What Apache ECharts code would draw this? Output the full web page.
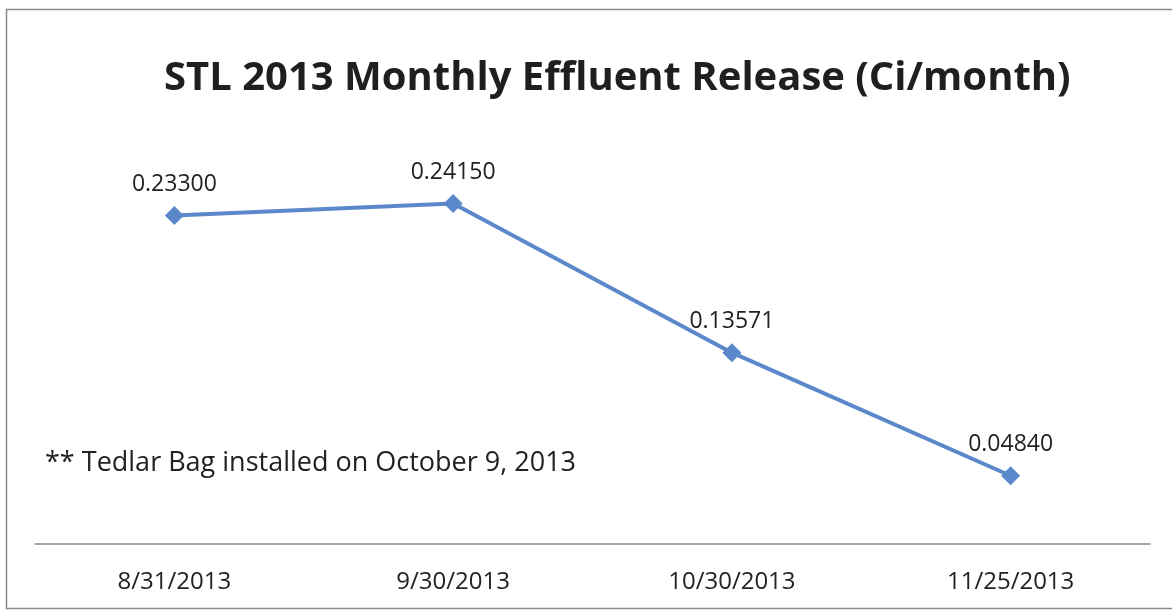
<!DOCTYPE html>
<html>
<head>
<meta charset="utf-8">
<script src="https://cdn.jsdelivr.net/npm/echarts@6/dist/echarts.min.js"></script>
<style>
html,body{margin:0;padding:0;background:#fff;}
#c{width:1172px;height:611px;}
</style>
</head>
<body>
<div id="c"></div>
<script>
var categories = ['8/31/2013', '9/30/2013', '10/30/2013', '11/25/2013'];
var releaseValues = [0.23300, 0.24150, 0.13571, 0.04840];
var titleText = 'STL 2013 Monthly Effluent Release (Ci/month)';
var noteText = '** Tedlar Bag installed on October 9, 2013';

var chart = echarts.init(document.getElementById('c'));
var font = '"Open Sans", "Noto Sans", sans-serif';
chart.setOption({
  animation: false,
  backgroundColor: '#fff',
  title: {
    text: titleText,
    left: 159,
    top: 54,
    textStyle: { fontFamily: font, fontSize: 40, fontWeight: 'bold', color: '#1f1f1f' }
  },
  graphic: [
    { type: 'rect', shape: { x: 6.5, y: 9.5, width: 1180, height: 599 }, style: { fill: 'none', stroke: '#8a8a8a', lineWidth: 1.5 }, silent: true },
    { type: 'text', left: 45, top: 450, style: { text: noteText, fontFamily: font, fontSize: 27, fill: '#222' } }
  ],
  grid: { left: 35, right: 22, top: 121, bottom: 67 },
  xAxis: {
    type: 'category',
    data: categories,
    boundaryGap: true,
    offset: 4,
    axisLine: { show: true, lineStyle: { color: '#8c8c8c', width: 1.5 } },
    axisTick: { show: false },
    axisLabel: { margin: 22, fontFamily: font, fontSize: 24, color: '#222' },
    splitLine: { show: false }
  },
  yAxis: {
    type: 'value',
    min: 0,
    max: 0.3,
    show: false
  },
  series: [{
    type: 'line',
    data: releaseValues,
    symbol: 'diamond',
    symbolSize: 19,
    lineStyle: { color: '#5b88cb', width: 4 },
    itemStyle: { color: '#5b88cb' },
    label: {
      show: true,
      position: 'top',
      distance: 10,
      fontFamily: font,
      fontSize: 23,
      color: '#222',
      formatter: function (p) { return p.value.toFixed(5); }
    }
  }]
});
</script>
</body>
</html>
